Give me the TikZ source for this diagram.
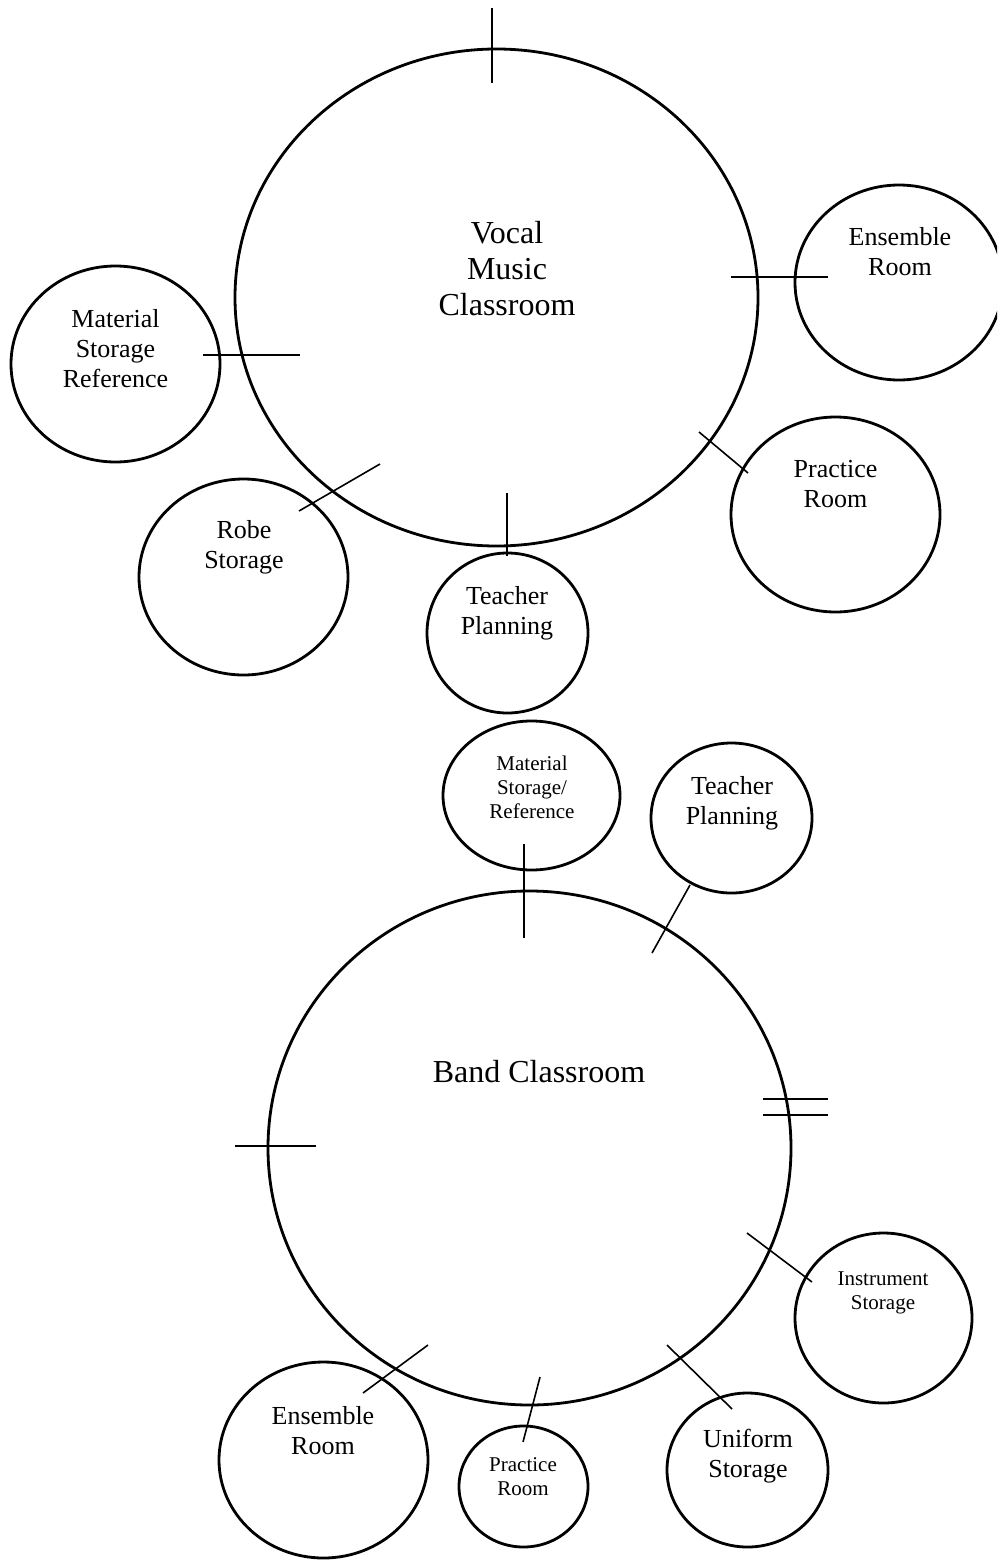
\documentclass[tikz,border=0pt]{standalone}
\usepackage{fontspec}
\setmainfont{Liberation Serif}
\usetikzlibrary{shapes.geometric}
\tikzset{
  room/.style={ellipse, draw, line width=2.8pt, inner sep=0pt},
  tick/.style={draw, line width=1.6pt},
  bigtxt/.style={align=center, inner sep=0pt, font=\fontsize{32}{36}\selectfont},
  midtxt/.style={align=center, inner sep=0pt, font=\fontsize{26}{30}\selectfont},
  smalltxt/.style={align=center, inner sep=0pt, font=\fontsize{21}{24}\selectfont},
}
\begin{document}
\begin{tikzpicture}[x=1pt, y=-1pt]
\useasboundingbox (0,0) rectangle (997,1560);
\clip (0,0) rectangle (997,1560);
% Vocal music group
\node[room, minimum width=523pt, minimum height=497pt] (vocal) at (496.5,297.5) {};
\node[room, minimum width=209pt, minimum height=196pt] (vmat) at (115.5,364) {};
\node[room, minimum width=209pt, minimum height=196pt] (robe) at (243.5,577) {};
\node[room, minimum width=161pt, minimum height=160pt] (vteach) at (507.5,633) {};
\node[room, minimum width=208pt, minimum height=195pt] (vens) at (899,282.5) {};
\node[room, minimum width=209pt, minimum height=195pt] (vprac) at (835.5,514.5) {};
% Band group
\node[room, minimum width=523pt, minimum height=514pt] (band) at (529.5,1148) {};
\node[room, minimum width=177pt, minimum height=149pt] (bmat) at (531.5,795.5) {};
\node[room, minimum width=161pt, minimum height=150pt] (bteach) at (731.5,818) {};
\node[room, minimum width=177pt, minimum height=170pt] (binst) at (883.5,1318) {};
\node[room, minimum width=161pt, minimum height=154pt] (buni) at (747.5,1470) {};
\node[room, minimum width=129pt, minimum height=121pt] (bprac) at (523.5,1486.5) {};
\node[room, minimum width=209pt, minimum height=196pt] (bens) at (323.5,1460) {};
% Labels
\node[bigtxt] (tvocal) at (507,269) {Vocal\\Music\\Classroom};
\node[midtxt] (tvmat) at (115.5,348.5) {Material\\Storage\\Reference};
\node[midtxt] (trobe) at (244,547) {Robe\\Storage};
\node[midtxt] (tvteach) at (507,613) {Teacher\\Planning};
\node[midtxt] (tvens) at (900,252) {Ensemble\\Room};
\node[midtxt] (tvprac) at (835.5,484) {Practice\\Room};
\node[bigtxt] (tband) at (539,1072) {Band Classroom};
\node[smalltxt] (tbmat) at (532,787) {Material\\Storage/\\Reference};
\node[midtxt] (tbteach) at (732,803.5) {Teacher\\Planning};
\node[smalltxt] (tbinst) at (883,1292.5) {Instrument\\Storage};
\node[midtxt] (tbuni) at (748,1456) {Uniform\\Storage};
\node[smalltxt] (tbprac) at (523,1476.5) {Practice\\Room};
\node[midtxt] (tbens) at (323,1431) {Ensemble\\Room};
% Door ticks (free ends as named coordinates)
\coordinate (t1a) at (492,8);    \coordinate (t1b) at (492,83);
\coordinate (t2a) at (203,355);  \coordinate (t2b) at (300,355);
\coordinate (t3a) at (299,511);  \coordinate (t3b) at (380,464);
\coordinate (t4a) at (731,277);  \coordinate (t4b) at (828,277);
\coordinate (t5a) at (699,432);  \coordinate (t5b) at (748,473);
\coordinate (t6a) at (507,493);  \coordinate (t6b) at (507,556);
\coordinate (t7a) at (524,844);  \coordinate (t7b) at (524,938);
\coordinate (t8a) at (690,885);  \coordinate (t8b) at (652,953);
\coordinate (t9a) at (235,1146); \coordinate (t9b) at (316,1146);
\coordinate (t10a) at (763,1099); \coordinate (t10b) at (828,1099);
\coordinate (t11a) at (763,1115); \coordinate (t11b) at (828,1115);
\coordinate (t12a) at (747,1233); \coordinate (t12b) at (812,1282);
\coordinate (t13a) at (667,1345); \coordinate (t13b) at (732,1409);
\coordinate (t14a) at (540,1377); \coordinate (t14b) at (523,1442);
\coordinate (t15a) at (363,1393); \coordinate (t15b) at (428,1345);
\foreach \i in {1,...,15} { \draw[tick] (t\i a) -- (t\i b); }
\end{tikzpicture}
\end{document}
